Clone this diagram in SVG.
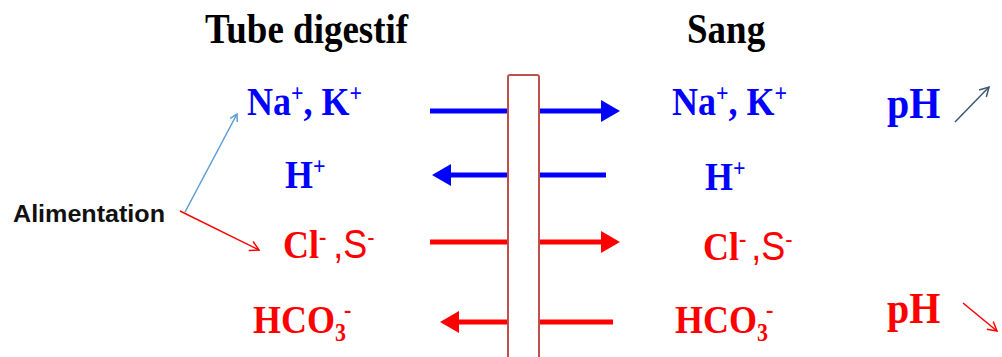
<svg xmlns="http://www.w3.org/2000/svg" width="1002" height="357" viewBox="0 0 1002 357">
<style>
.t{font-family:"Liberation Serif","Times New Roman",serif;font-weight:bold}
.title{font-size:37px;fill:#000}
.ion{font-size:36px}
.ph{font-size:40px}
.sup{font-size:22px}
.sans{font-family:"Liberation Sans",Arial,sans-serif;font-weight:normal}
.blue{fill:#0000ff}
.red{fill:#ff0000}
.ali{font-family:"Liberation Sans",Arial,sans-serif;font-weight:bold;font-size:24px;fill:#111}
.bl{stroke:#0000ff;stroke-width:5;fill:none}
.rl{stroke:#ff0000;stroke-width:5;fill:none}
</style>
<defs>
<marker id="ahBlueThin" markerWidth="10" markerHeight="10" refX="8" refY="5" orient="auto" markerUnits="userSpaceOnUse"><path d="M1,1 L8,5 L1,9" fill="none" stroke="#5b9bd5" stroke-width="1.5"/></marker>
<marker id="ahRedThin" markerWidth="12" markerHeight="12" refX="10" refY="6" orient="auto" markerUnits="userSpaceOnUse"><path d="M1,1 L10,6 L1,11" fill="none" stroke="#ff0000" stroke-width="1.5"/></marker>
<marker id="ahSlate" markerWidth="12" markerHeight="12" refX="10" refY="6" orient="auto" markerUnits="userSpaceOnUse"><path d="M1,1 L10,6 L1,11" fill="none" stroke="#3f5770" stroke-width="1.5"/></marker>
</defs>

<g id="title-tube"><text class="t title" transform="translate(205,43) scale(1,1.12)">Tube digestif</text></g>
<g id="title-sang"><text class="t title" transform="translate(687,43) scale(1,1.12)">Sang</text></g>

<g id="connectors">
<path class="bl" d="M430,111 H602"/>
<path d="M620,111 L601,100 L601,122 Z" fill="#0000ff"/>
<path class="bl" d="M606,175 H449"/>
<path d="M432,175 L451,164 L451,186 Z" fill="#0000ff"/>
<path class="rl" d="M430,242 H602"/>
<path d="M620,242 L601,231 L601,253 Z" fill="#ff0000"/>
<path class="rl" d="M613,322 H457"/>
<path d="M440,322 L459,311 L459,333 Z" fill="#ff0000"/>
<line x1="185" y1="212" x2="237" y2="114" stroke="#5b9bd5" stroke-width="1.5" marker-end="url(#ahBlueThin)"/>
<line x1="180" y1="211" x2="259" y2="250" stroke="#ff0000" stroke-width="1.5" marker-end="url(#ahRedThin)"/>
<line x1="955" y1="122" x2="989" y2="87" stroke="#3f5770" stroke-width="1.5" marker-end="url(#ahSlate)"/>
<line x1="963" y1="303" x2="997" y2="331" stroke="#ff0000" stroke-width="1.5" marker-end="url(#ahRedThin)"/>
</g>

<g id="membrane"><rect x="508" y="75" width="31" height="290" rx="2" fill="#ffffff" stroke="#c0504d" stroke-width="2"/></g>

<g id="alimentation"><text class="ali" x="13" y="222" textLength="152" lengthAdjust="spacingAndGlyphs">Alimentation</text></g>

<g id="left-na-k"><text class="t ion blue" transform="translate(247,115) scale(1,1.12)">Na<tspan class="sup" dy="-12">+</tspan><tspan dy="12">, K</tspan><tspan class="sup" dy="-12">+</tspan></text></g>
<g id="left-h"><text class="t ion blue" transform="translate(285,188) scale(1,1.12)">H<tspan class="sup" dy="-12">+</tspan></text></g>
<g id="left-cl-s"><text class="t ion red" transform="translate(283,258) scale(1,1.12)">Cl<tspan class="sup" dy="-12">-</tspan><tspan dy="12"> </tspan><tspan class="sans" dx="-2">,S</tspan><tspan class="sup sans" dy="-12">-</tspan></text></g>
<g id="left-hco3"><text class="t ion red" transform="translate(253,333) scale(1,1.12)">HCO<tspan class="sup" dy="7">3</tspan><tspan class="sup" dy="-20" dx="-2">-</tspan></text></g>

<g id="right-na-k"><text class="t ion blue" transform="translate(672,115) scale(1,1.12)">Na<tspan class="sup" dy="-12">+</tspan><tspan dy="12">, K</tspan><tspan class="sup" dy="-12">+</tspan></text></g>
<g id="right-h"><text class="t ion blue" transform="translate(705,190) scale(1,1.12)">H<tspan class="sup" dy="-12">+</tspan></text></g>
<g id="right-cl-s"><text class="t ion red" transform="translate(703,260) scale(1,1.12)">Cl<tspan class="sup" dy="-12">-</tspan><tspan dy="12"> </tspan><tspan class="sans" dx="-4">,S</tspan><tspan class="sup sans" dy="-12">-</tspan></text></g>
<g id="right-hco3"><text class="t ion red" transform="translate(675,333) scale(1,1.12)">HCO<tspan class="sup" dy="7">3</tspan><tspan class="sup" dy="-20" dx="-2">-</tspan></text></g>

<g id="ph-up"><text class="t ph blue" transform="translate(887,118) scale(1,1.1)">pH</text></g>
<g id="ph-down"><text class="t ph red" transform="translate(887,323) scale(1,1.1)">pH</text></g>
</svg>
